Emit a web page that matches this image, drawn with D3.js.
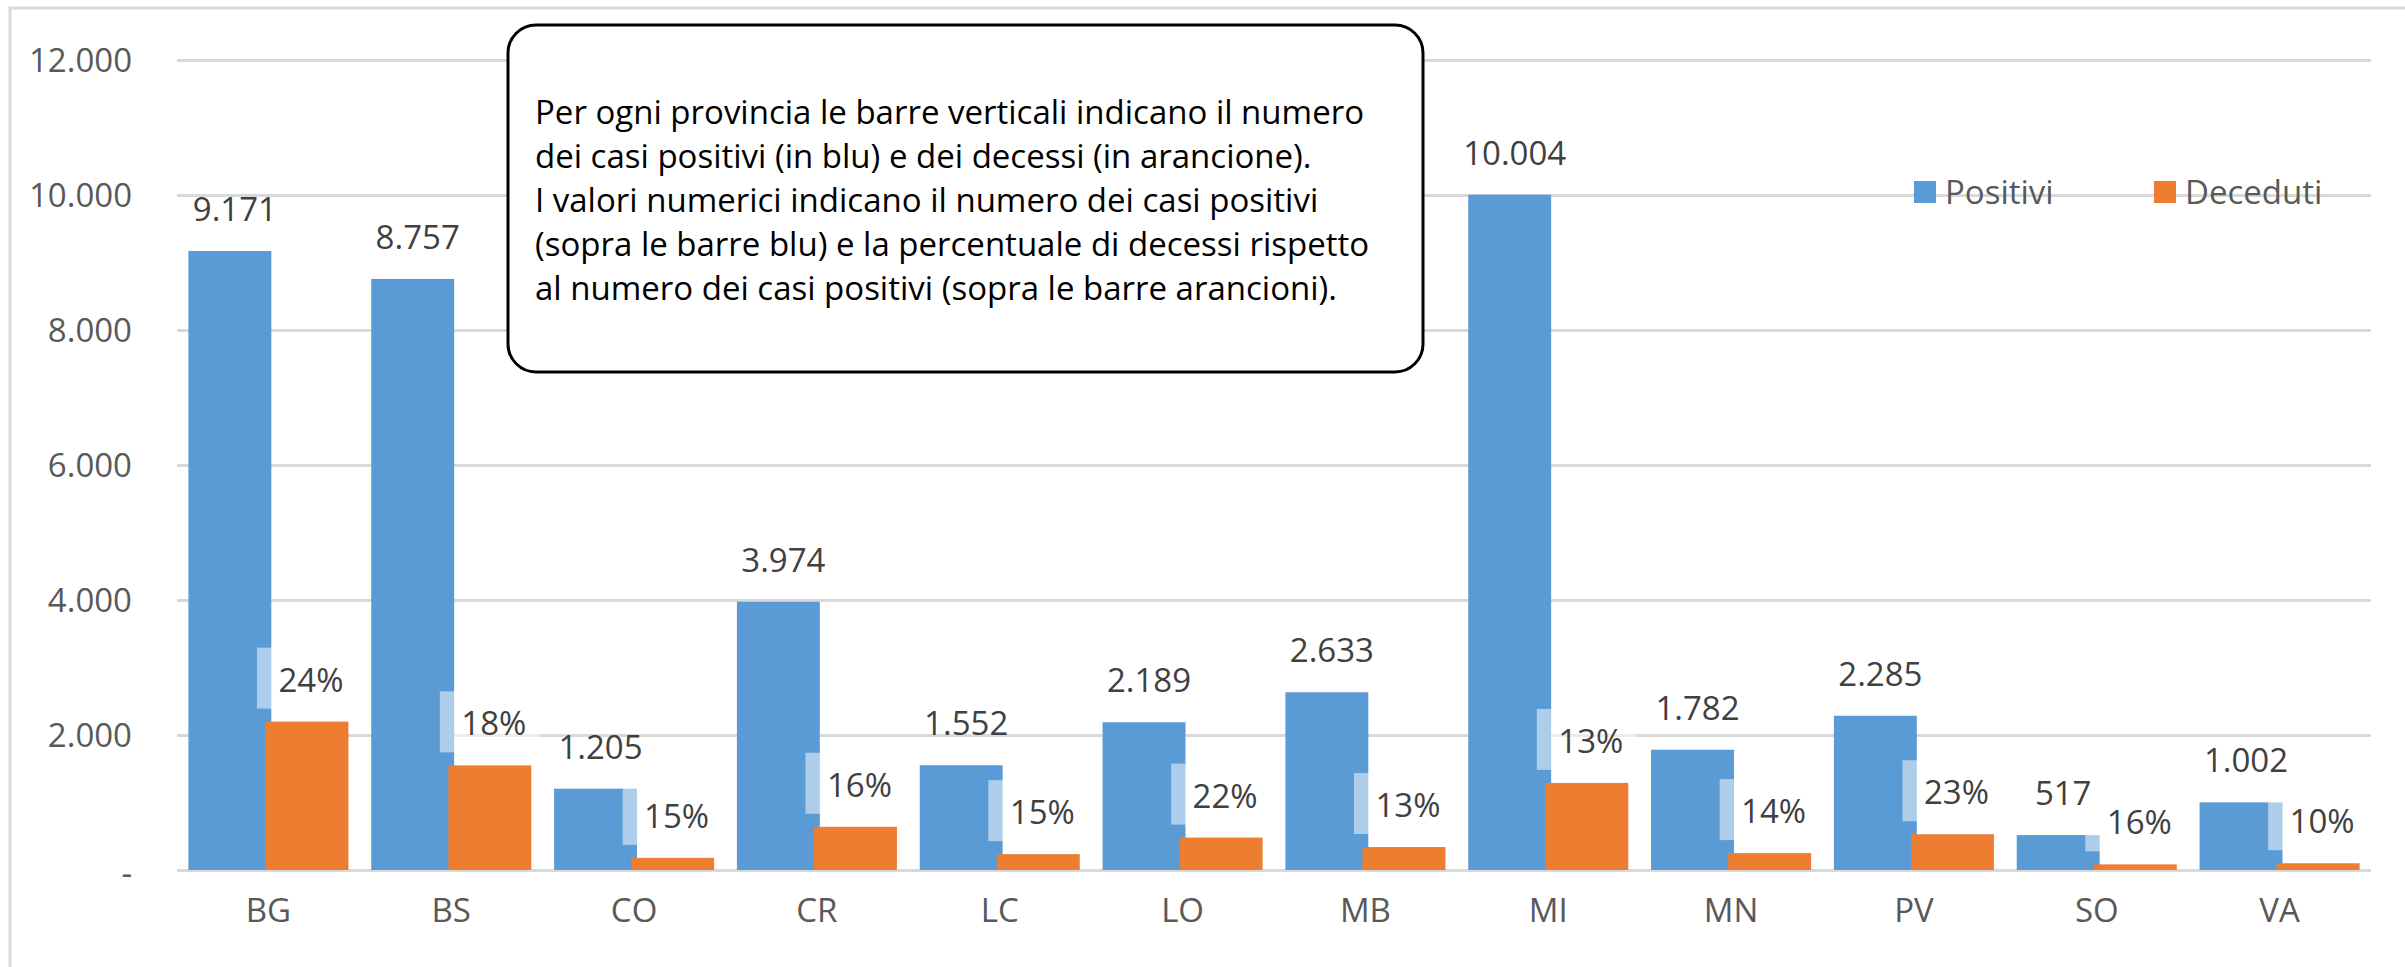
<!DOCTYPE html>
<html>
<head>
<meta charset="utf-8">
<script src="https://cdn.jsdelivr.net/npm/d3@7"></script>
<style>
  body { margin: 0; background: #fff; }
  svg text { font-family: "Open Sans", sans-serif; }
</style>
</head>
<body>
<div class="chart"></div>
<script>
// Data
const province = ['BG','BS','CO','CR','LC','LO','MB','MI','MN','PV','SO','VA'];
const positivi = [9171, 8757, 1205, 3974, 1552, 2189, 2633, 10004, 1782, 2285, 517, 1002];
const deceduti = [2198, 1550, 180, 640, 235, 480, 340, 1290, 250, 530, 83, 100];
const yTicks = [0, 2000, 4000, 6000, 8000, 10000, 12000];
const seriesNames = ['Positivi', 'Deceduti'];
const noteLines = [
  'Per ogni provincia le barre verticali indicano il numero',
  'dei casi positivi (in blu) e dei decessi (in arancione).',
  'I valori numerici indicano il numero dei casi positivi',
  '(sopra le barre blu) e la percentuale di decessi rispetto',
  'al numero dei casi positivi (sopra le barre arancioni).'
];

const colors = ['#5b9bd5', '#ed7d31'];
const it = d3.formatLocale({decimal: ',', thousands: '.', grouping: [3], currency: ['', '€']});
const fmtNum = it.format(',d');
const fmtPct = d3.format('.0%');

const W = 2405, H = 967;
const plot = {left: 177, right: 2371, top: 60, bottom: 870};

const svg = d3.select('.chart').append('svg')
  .attr('width', W).attr('height', H);

// outer frame (cut at right / bottom like the source)
svg.append('rect')
  .attr('x', 10).attr('y', 8).attr('width', W).attr('height', H)
  .attr('fill', 'none').attr('stroke', '#d9d9d9').attr('stroke-width', 3);

const x = d3.scaleBand().domain(province).range([plot.left, plot.right]);
const y = d3.scaleLinear().domain([0, 12000]).range([plot.bottom, plot.top]);

// Excel style: gap width 27.5%, overlap 7%
const gap = 0.275, overlap = 0.07;
const bw = x.bandwidth() / (2 - overlap + gap);
const step = bw * (1 - overlap);
const groupW = bw + step;
const barX = (d, s) => x(d) + (x.bandwidth() - groupW) / 2 + s * step;

// gridlines + y labels
const yAxis = d3.axisLeft(y).tickValues(yTicks)
  .tickSize(-(plot.right - plot.left))
  .tickFormat(d => d === 0 ? '-' : fmtNum(d));
const gy = svg.append('g').attr('transform', `translate(${plot.left},0)`).call(yAxis);
gy.select('.domain').remove();
gy.selectAll('line').attr('stroke', '#d9d9d9').attr('stroke-width', 3);
gy.selectAll('text')
  .attr('x', -45).attr('dy', '0.35em')
  .style('font-size', '33px').attr('fill', '#595959');
gy.selectAll('.tick').filter(d => d === 0).select('text').attr('dy', '0.45em');

// x labels
const xAxis = d3.axisBottom(x).tickSize(0);
const gx = svg.append('g').attr('transform', `translate(0,${plot.bottom})`).call(xAxis);
gx.select('.domain').remove();
gx.selectAll('text').attr('y', 52).attr('dy', 0)
  .style('font-size', '33px').attr('fill', '#595959');

// bars
const rows = province.map((p, i) => ({p, pos: positivi[i], dec: deceduti[i]}));

svg.append('g').selectAll('rect').data(rows).join('rect')
  .attr('x', d => barX(d.p, 0)).attr('width', bw)
  .attr('y', d => y(d.pos)).attr('height', d => y(0) - y(d.pos))
  .attr('fill', colors[0]);

svg.append('g').selectAll('rect').data(rows).join('rect')
  .attr('x', d => barX(d.p, 1)).attr('width', bw)
  .attr('y', d => y(d.dec)).attr('height', d => y(0) - y(d.dec))
  .attr('fill', colors[1]);

// percentage label boxes (semi-transparent white, as in the source)
svg.append('g').selectAll('rect').data(rows).join('rect')
  .attr('x', d => barX(d.p, 1) + bw / 2 - 50).attr('width', 100)
  .attr('y', d => y(d.dec) - 74).attr('height', 61)
  .attr('fill', '#fff').attr('fill-opacity', 0.5);

// data labels
svg.append('g').selectAll('text').data(rows).join('text')
  .attr('x', d => barX(d.p, 0) + bw / 2 + 5)
  .attr('y', d => y(d.pos) - 30)
  .attr('text-anchor', 'middle')
  .style('font-size', '33px').attr('fill', '#404040')
  .text(d => fmtNum(d.pos));

svg.append('g').selectAll('text').data(rows).join('text')
  .attr('x', d => barX(d.p, 1) + bw / 2 + 4)
  .attr('y', d => y(d.dec) - 30)
  .attr('text-anchor', 'middle')
  .style('font-size', '33px').attr('fill', '#404040')
  .text(d => fmtPct(d.dec / d.pos));

// legend
const legend = svg.append('g').attr('transform', 'translate(1914,181)');
const lg = legend.selectAll('g').data(seriesNames).join('g')
  .attr('transform', (d, i) => `translate(${i * 240},0)`);
lg.append('rect').attr('width', 22).attr('height', 22).attr('fill', (d, i) => colors[i]);
lg.append('text').attr('x', 31).attr('y', 11).attr('dy', '0.35em')
  .style('font-size', '33px').attr('fill', '#595959').text(d => d);

// note box
const note = svg.append('g');
note.append('rect')
  .attr('x', 508).attr('y', 25).attr('width', 915).attr('height', 347)
  .attr('rx', 28).attr('ry', 28)
  .attr('fill', '#fff').attr('stroke', '#000').attr('stroke-width', 3);
note.selectAll('text').data(noteLines).join('text')
  .attr('x', 535).attr('y', (d, i) => 124 + i * 44)
  .style('font-size', '33px').attr('fill', '#000')
  .text(d => d);
</script>
</body>
</html>
